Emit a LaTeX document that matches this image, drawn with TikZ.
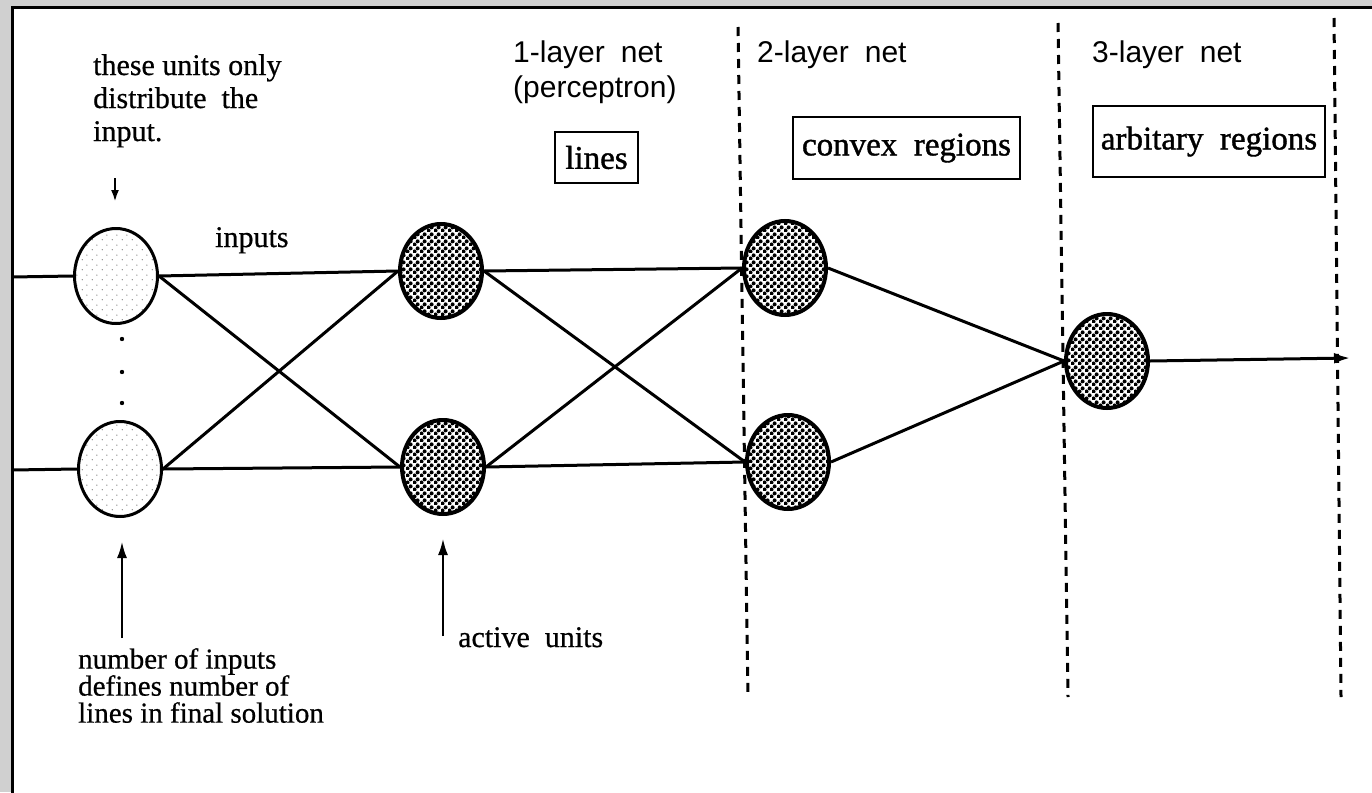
\documentclass[tikz,border=0pt]{standalone}
\usepackage{fontspec}
\setmainfont{Liberation Serif}[FakeBold=0.6]
\setsansfont{Liberation Sans}
\newfontfamily\boxserif{Liberation Serif}[FakeBold=1.2]
\usetikzlibrary{shapes.geometric,arrows.meta,patterns}

% dense dot screen for the active units
\pgfdeclarepatternformonly{unitdots}{\pgfqpoint{0pt}{0pt}}{\pgfqpoint{7pt}{7pt}}{\pgfqpoint{7pt}{7pt}}{%
  \pgfpathcircle{\pgfqpoint{1.75pt}{1.75pt}}{2.25pt}%
  \pgfpathcircle{\pgfqpoint{5.25pt}{5.25pt}}{2.25pt}%
  \pgfusepath{fill}}
% sparse stipple for the input units
\pgfdeclarepatternformonly{inputdots}{\pgfqpoint{0pt}{0pt}}{\pgfqpoint{10pt}{10pt}}{\pgfqpoint{10pt}{10pt}}{%
  \pgfpathcircle{\pgfqpoint{2.5pt}{2.5pt}}{0.7pt}%
  \pgfpathcircle{\pgfqpoint{7.5pt}{7.5pt}}{0.7pt}%
  \pgfusepath{fill}}

\definecolor{paper}{RGB}{208,208,208}
\newcommand{\widespaces}{\spaceskip=16pt plus 2pt minus 1pt\relax}

\tikzset{
  inunit/.style={ellipse, draw, line width=3pt, minimum width=83pt, minimum height=95pt,
    inner sep=0pt, pattern=inputdots, pattern color=black!55},
  actunit/.style={ellipse, draw, line width=4pt, minimum width=82pt, minimum height=94pt,
    inner sep=0pt, pattern=unitdots, pattern color=black},
  wire/.style={line width=3pt},
  divider/.style={line width=3pt, dash pattern=on 9pt off 7pt},
  pointer/.style={line width=2.8pt, -{Latex[length=17pt,width=10pt]}},
  serif/.style={inner sep=0pt, anchor=base west, font=\fontsize{30}{34}\selectfont},
  noteblock/.style={inner sep=0pt, anchor=north west, align=left,
    font=\fontsize{29}{27}\selectfont},
  sans/.style={inner sep=0pt, anchor=base west,
    font=\sffamily\fontsize{30}{34}\selectfont\widespaces},
  regionbox/.style={draw, line width=2.6pt, inner sep=0pt,
    font=\boxserif\fontsize{33}{36}\selectfont},
}

\begin{document}
\begin{tikzpicture}[x=1pt, y=-1pt]
\useasboundingbox (0,0) rectangle (1372,792);
\fill[paper] (0,0) rectangle (1372,792);
\fill[white] (12,8) rectangle (1390,810);
\draw[line width=3pt] (1390,8) -- (12,8) -- (12,810);

% layer dividers
\draw[divider] (738,27) -- (748,697);
\draw[divider] (1058,23) -- (1068,697);
\draw[divider] (1334,18) -- (1341,697);

% units
\node[inunit] (in1) at (116,276) {};
\node[inunit] (in2) at (120,469) {};
\node[actunit] (h1) at (441,271) {};
\node[actunit] (h2) at (443,467) {};
\node[actunit] (g1) at (785,268) {};
\node[actunit] (g2) at (788,462) {};
\node[actunit] (out) at (1107,361) {};

% dots between the input units
\foreach \yy in {339,372,403} \fill (122,\yy) circle (2.2pt);

% incoming lines
\coordinate (src1) at (12,277);
\coordinate (src2) at (12,470);
\draw[wire] (src1) -- (in1.west);
\draw[wire] (src2) -- (in2.west);

% input units to first layer
\draw[wire] (in1.east) -- (h1.west);
\draw[wire] (in1.east) -- (h2.west);
\draw[wire] (in2.east) -- (h1.west);
\draw[wire] (in2.east) -- (h2.west);

% first layer to second layer
\draw[wire] (h1.east) -- (g1.west);
\draw[wire] (h1.east) -- (g2.west);
\draw[wire] (h2.east) -- (g1.west);
\draw[wire] (h2.east) -- (g2.west);

% second layer to output unit
\draw[wire] (g1.east) -- (out.west);
\draw[wire] (g2.east) -- (out.west);
\coordinate (sink) at (1350,358);
\draw[wire, -{Latex[length=16pt,width=11pt]}] (out.east) -- (sink);

% annotation pointers
\coordinate (p1a) at (115,178);
\coordinate (p1b) at (115,202);
\draw[line width=2.4pt, -{Latex[length=12pt,width=8pt]}] (p1a) -- (p1b);
\coordinate (p2a) at (122,638);
\coordinate (p2b) at (122,541);
\draw[pointer] (p2a) -- (p2b);
\coordinate (p3a) at (443,636);
\coordinate (p3b) at (443,538);
\draw[pointer] (p3a) -- (p3b);

% annotations
\node[serif] (t1) at (93,75) {these units only};
\node[serif] (t2) at (93,108) {distribute\ \ the};
\node[serif] (t3) at (93,141) {input.};
\node[serif] (tin) at (215,247) {inputs};
\node[serif] (tact) at (458,647) {active\ \ units};
\node[noteblock] (nb) at (78,648) {number of inputs\\defines number of\\lines in final solution};

% layer headings
\node[sans] (l1a) at (513,63) {1-layer net};
\node[sans] (l1b) at (513,97) {(perceptron)};
\node[sans] (l2) at (757,63) {2-layer net};
\node[sans] (l3) at (1092,63) {3-layer net};

% decision regions
\node[regionbox, minimum width=83pt, minimum height=51pt] (r1) at (596.5,157.5) {lines};
\node[regionbox, minimum width=227pt, minimum height=62pt] (r2) at (906.5,148) {convex\ \ regions};
\node[regionbox, minimum width=232pt, minimum height=71pt] (r3) at (1209,141.5) {arbitary\ \ regions};
\end{tikzpicture}
\end{document}
